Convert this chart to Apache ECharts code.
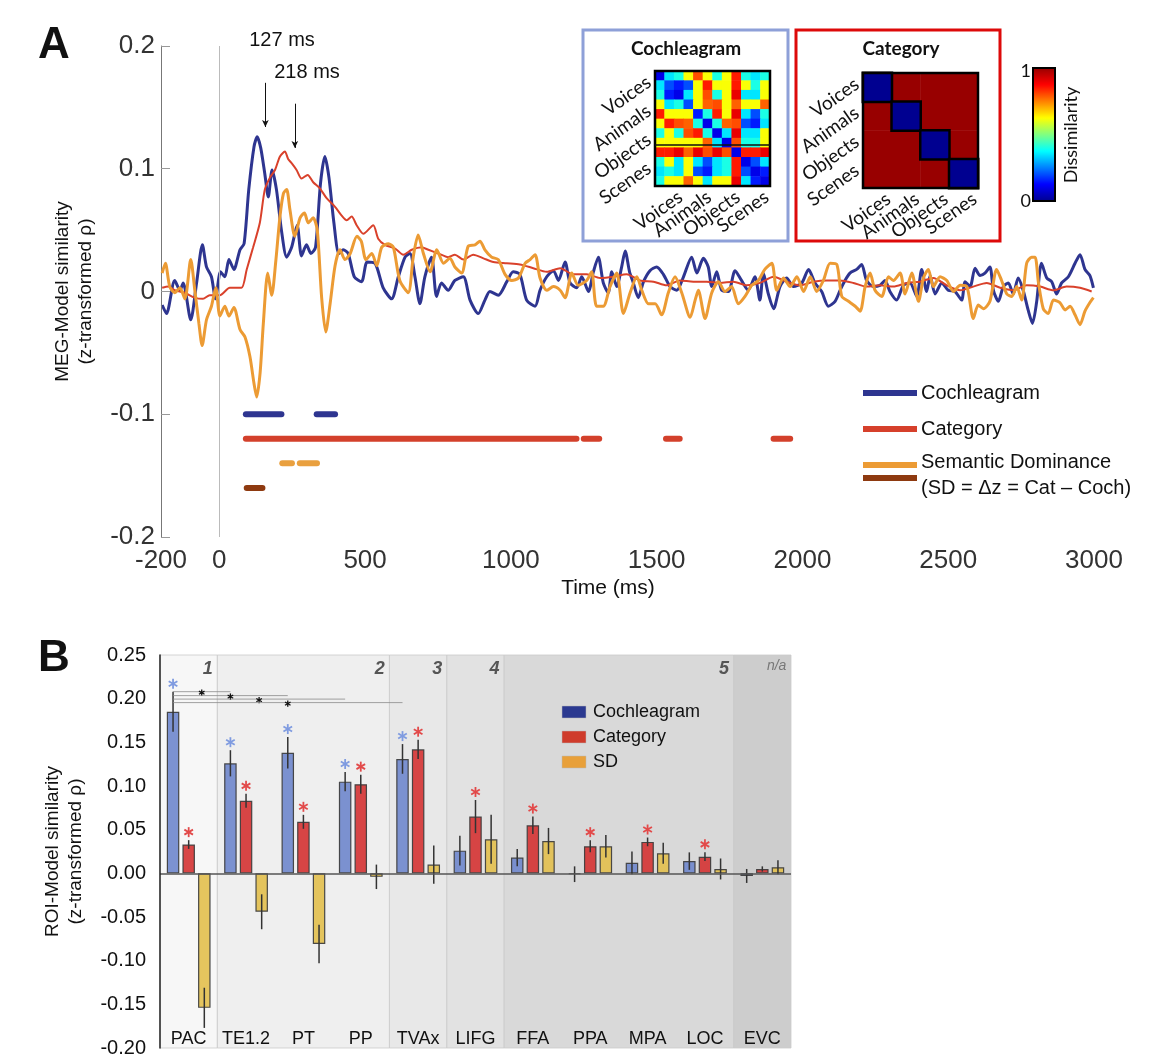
<!DOCTYPE html>
<html><head><meta charset="utf-8">
<script src="https://cdn.jsdelivr.net/npm/echarts@6/dist/echarts.min.js"></script>
<style>html,body{margin:0;padding:0;background:#fff}#c{width:1154px;height:1059px}</style>
</head><body><div id="c"></div>
<script>
// ---------------- Panel A data ----------------
const timeTickLabels = [-200, 0, 500, 1000, 1500, 2000, 2500, 3000];
const cochleagramSeries = [[-196,-0.011],[-181,-0.018],[-153,0.009],[-135,0.001],[-124,0.007],[-98,-0.023],[-78,0.007],[-58,0.038],[-44,0.020],[-27,0.012],[-13,-0.006],[4,0.016],[19,0.012],[33,0.026],[50,0.018],[71,0.034],[85,0.039],[101,0.083],[119,0.118],[130,0.126],[142,0.117],[156,0.096],[168,0.077],[181,0.099],[196,0.083],[213,0.050],[231,0.028],[248,0.036],[267,0.054],[282,0.029],[299,0.038],[314,0.031],[330,0.036],[347,0.088],[362,0.110],[376,0.093],[393,0.056],[410,0.031],[425,0.034],[442,0.031],[463,0.012],[488,0.008],[507,0.024],[534,0.023],[562,0.003],[591,-0.006],[614,0.012],[637,0.028],[654,0.031],[671,0.012],[688,-0.010],[705,0.012],[728,0.028],[745,-0.004],[762,0.007],[785,0.001],[808,0.009],[837,0.012],[860,-0.007],[888,-0.018],[911,-0.007],[928,0.000],[957,-0.003],[986,0.008],[1008,0.016],[1031,0.014],[1054,-0.007],[1083,-0.012],[1100,0.001],[1123,0.012],[1146,0.017],[1163,0.009],[1186,0.024],[1203,0.007],[1226,0.003],[1243,0.012],[1266,0.000],[1283,0.016],[1300,0.028],[1317,0.007],[1334,-0.001],[1346,0.016],[1363,0.004],[1380,0.020],[1392,0.033],[1407,0.016],[1420,0.007],[1437,-0.005],[1455,0.008],[1477,0.017],[1500,0.020],[1523,0.014],[1546,0.004],[1569,0.001],[1592,0.012],[1620,0.028],[1638,0.015],[1660,0.027],[1677,0.020],[1689,0.004],[1706,0.016],[1723,0.001],[1746,0.000],[1769,0.017],[1791,0.009],[1814,0.001],[1837,0.012],[1854,-0.007],[1866,0.015],[1883,-0.002],[1901,-0.014],[1923,0.004],[1946,0.011],[1969,0.004],[1998,0.007],[2021,0.018],[2043,0.007],[2066,0.000],[2089,-0.012],[2112,-0.008],[2129,0.001],[2146,0.009],[2163,0.015],[2186,0.018],[2203,0.022],[2220,0.009],[2243,0.004],[2266,0.005],[2283,0.009],[2300,0.000],[2323,-0.007],[2346,0.005],[2369,0.007],[2392,-0.004],[2409,0.018],[2426,0.000],[2438,0.013],[2455,-0.002],[2478,0.007],[2500,0.001],[2523,0.000],[2546,-0.007],[2558,0.008],[2575,0.004],[2592,0.019],[2609,0.013],[2626,0.015],[2643,0.020],[2655,0.001],[2672,-0.008],[2689,0.004],[2706,0.007],[2723,-0.002],[2740,0.011],[2757,0.001],[2774,-0.015],[2789,-0.026],[2803,-0.009],[2820,0.023],[2838,0.011],[2855,0.008],[2872,-0.002],[2889,0.007],[2912,0.012],[2935,0.023],[2952,0.030],[2969,0.018],[2986,0.013],[2998,0.003]];
const categorySeries = [[-196,0.003],[-175,0.004],[-153,0.001],[-119,-0.001],[-85,-0.005],[-56,-0.006],[-33,-0.003],[2,-0.003],[36,0.003],[76,0.003],[94,0.018],[116,0.036],[139,0.056],[156,0.083],[174,0.093],[191,0.099],[208,0.110],[225,0.114],[236,0.108],[250,0.104],[265,0.099],[282,0.092],[303,0.095],[322,0.089],[345,0.084],[368,0.076],[397,0.069],[419,0.062],[437,0.058],[454,0.061],[471,0.054],[494,0.047],[528,0.054],[545,0.043],[568,0.038],[603,0.035],[631,0.030],[660,0.034],[694,0.036],[717,0.034],[751,0.031],[785,0.028],[808,0.030],[837,0.026],[871,0.030],[906,0.027],[940,0.024],[986,0.023],[1031,0.022],[1077,0.019],[1123,0.016],[1169,0.019],[1214,0.014],[1260,0.014],[1306,0.011],[1352,0.012],[1397,0.014],[1443,0.009],[1489,0.008],[1534,0.005],[1580,0.009],[1626,0.008],[1672,0.008],[1717,0.007],[1763,0.008],[1809,0.005],[1854,0.007],[1901,0.012],[1946,0.008],[1992,0.005],[2038,0.008],[2084,0.009],[2129,0.009],[2175,0.007],[2220,0.004],[2266,0.005],[2312,0.004],[2358,0.007],[2403,0.008],[2449,0.011],[2495,0.005],[2541,0.001],[2586,0.004],[2632,0.007],[2678,0.003],[2723,0.001],[2769,0.005],[2815,0.004],[2861,0.001],[2906,0.004],[2952,0.003],[2992,0.000]];
const sdSeries = [[-196,0.015],[-185,0.023],[-170,0.004],[-153,-0.001],[-135,0.003],[-118,-0.006],[-98,0.026],[-84,0.001],[-70,-0.026],[-59,-0.044],[-44,-0.023],[-27,-0.012],[-12,0.003],[2,-0.020],[19,-0.012],[33,-0.020],[50,-0.013],[71,-0.031],[88,-0.037],[105,-0.053],[119,-0.075],[128,-0.086],[140,-0.066],[151,-0.026],[166,0.015],[180,-0.003],[193,0.023],[208,0.061],[220,0.080],[231,0.083],[242,0.067],[259,0.045],[277,0.060],[292,0.064],[305,0.056],[322,0.060],[336,0.050],[351,-0.005],[365,-0.033],[380,-0.010],[397,0.021],[414,0.034],[431,0.026],[449,0.031],[472,0.045],[487,0.041],[503,0.026],[523,0.031],[540,0.021],[557,0.036],[580,0.039],[597,0.036],[619,0.009],[648,-0.001],[665,0.028],[682,0.046],[700,0.031],[723,0.016],[746,0.034],[769,0.023],[791,0.027],[808,0.020],[831,0.015],[854,0.037],[877,0.038],[894,0.041],[911,0.034],[934,0.028],[957,0.026],[980,0.014],[1003,0.009],[1026,0.011],[1049,0.023],[1066,0.026],[1083,0.030],[1100,0.011],[1123,0.001],[1146,0.004],[1169,0.001],[1186,-0.005],[1209,0.015],[1231,0.005],[1260,0.009],[1277,0.016],[1294,-0.012],[1317,-0.012],[1340,0.004],[1363,0.015],[1386,-0.018],[1409,-0.001],[1432,0.012],[1449,0.001],[1472,-0.010],[1495,-0.010],[1517,-0.019],[1540,-0.001],[1563,0.012],[1586,-0.001],[1615,-0.021],[1632,-0.007],[1643,0.001],[1666,-0.022],[1689,-0.001],[1712,0.008],[1734,0.000],[1757,0.004],[1780,-0.010],[1803,-0.004],[1826,0.005],[1849,0.009],[1871,0.018],[1895,0.023],[1912,0.001],[1935,0.011],[1958,0.004],[1981,0.012],[2004,0.000],[2027,0.012],[2049,0.000],[2072,0.009],[2095,0.023],[2118,0.022],[2135,-0.004],[2158,-0.008],[2181,-0.012],[2198,-0.016],[2215,0.004],[2232,0.015],[2249,0.001],[2272,-0.004],[2295,0.012],[2312,0.009],[2335,0.015],[2352,-0.002],[2375,0.015],[2398,-0.008],[2415,0.011],[2432,0.018],[2449,0.004],[2472,0.012],[2495,0.009],[2518,0.000],[2541,0.005],[2564,0.004],[2586,-0.022],[2603,-0.011],[2621,-0.014],[2643,-0.008],[2666,0.018],[2683,0.009],[2701,-0.002],[2718,-0.004],[2735,0.004],[2752,-0.007],[2769,0.023],[2786,0.028],[2798,0.028],[2809,0.008],[2826,-0.014],[2843,-0.018],[2861,-0.007],[2883,-0.009],[2901,-0.015],[2918,-0.012],[2935,-0.019],[2952,-0.027],[2969,-0.016],[2986,-0.009],[2998,-0.005]];
// significance periods (ms) and their plotting levels
const sigCochleagram = [[91,213],[334,397]];
const sigCategory = [[91,1225],[1250,1303],[1532,1579],[1901,1958]];
const sigSD = [[216,249],[276,335]];
const sigSDneg = [[94,148]];
const sigLevels = [-0.10, -0.12, -0.14, -0.16];
const peakArrows = [[158, 0.170, 0.134], [259, 0.153, 0.117]];

// ---------------- Inset RDMs ----------------
const rdmLabels = ['Voices','Animals','Objects','Scenes'];
const cochleagramRdm = [
[0.10,0.35,0.40,0.62,0.80,0.62,0.40,0.62,0.85,0.40,0.35,0.40],
[0.35,0.20,0.15,0.20,0.62,0.85,0.62,0.62,0.85,0.62,0.40,0.62],
[0.40,0.15,0.10,0.35,0.62,0.80,0.40,0.62,0.90,0.35,0.35,0.62],
[0.62,0.35,0.40,0.20,0.62,0.78,0.80,0.62,0.78,0.62,0.62,0.78],
[0.85,0.62,0.62,0.62,0.15,0.40,0.85,0.62,0.90,0.35,0.20,0.40],
[0.62,0.85,0.80,0.78,0.40,0.10,0.40,0.78,0.80,0.20,0.15,0.35],
[0.40,0.62,0.40,0.80,0.85,0.40,0.10,0.35,0.90,0.35,0.35,0.62],
[0.62,0.62,0.62,0.62,0.62,0.78,0.35,0.10,0.80,0.40,0.40,0.62],
[0.85,0.85,0.90,0.78,0.90,0.80,0.90,0.80,0.10,0.85,0.85,0.90],
[0.40,0.62,0.35,0.62,0.35,0.20,0.35,0.40,0.85,0.10,0.20,0.35],
[0.35,0.40,0.35,0.62,0.20,0.15,0.35,0.40,0.85,0.20,0.10,0.15],
[0.40,0.62,0.62,0.78,0.62,0.35,0.62,0.62,0.90,0.35,0.15,0.10]];
const categoryRdm = [[0,1,1,1],[1,0,1,1],[1,1,0,1],[1,1,1,0]];

// ---------------- Panel B data ----------------
const roiNames = ['PAC','TE1.2','PT','PP','TVAx','LIFG','FFA','PPA','MPA','LOC','EVC'];
const cochValues = [0.185, 0.126, 0.138, 0.105, 0.131, 0.026, 0.018, -0.001, 0.012, 0.014, -0.003];
const cochErrors = [0.023, 0.015, 0.018, 0.011, 0.017, 0.017, 0.010, 0.009, 0.013, 0.010, 0.008];
const catValues = [0.033, 0.083, 0.059, 0.102, 0.142, 0.065, 0.055, 0.031, 0.036, 0.019, 0.005];
const catErrors = [0.005, 0.008, 0.008, 0.011, 0.011, 0.019, 0.010, 0.007, 0.005, 0.005, 0.003];
const sdValues = [-0.154, -0.044, -0.081, -0.004, 0.010, 0.039, 0.037, 0.031, 0.023, 0.005, 0.007];
const sdErrors = [0.023, 0.020, 0.022, 0.014, 0.022, 0.028, 0.015, 0.013, 0.012, 0.012, 0.008];
const cochSig = [1,1,1,1,1,0,0,0,0,0,0];
const catSig = [1,1,1,1,1,1,1,1,1,1,0];
const sdSig = [0,0,0,0,0,0,0,0,0,0,0];
const regionNames = ['1','2','3','4','5','n/a'];
const regionSpans = [[0,0],[1,3],[4,4],[5,5],[6,9],[10,10]];
const pairComparisons = [[0,1,0.208],[0,2,0.2035],[0,3,0.1995],[0,4,0.1955]];

// ---------------- styles ----------------
const FONT = '"Liberation Sans", Arial, Helvetica, sans-serif';
const INSET_FONT = 'Lato, "Liberation Sans", sans-serif';
const C_BLUE = '#2e3590', C_RED = '#d9412b', C_ORANGE = '#ec9b34', C_BROWN = '#8e3a10';
const sigColors = [C_BLUE, '#d3402b', '#e9a03f', C_BROWN];
const regionColors = ['#f7f7f7','#efefef','#e8e8e8','#e2e2e2','#d9d9d9','#cdcdcd'];
const BAR_FRAC = 0.218, GAP_FRAC = 0.25;
const jet = ['#000090','#0000ff','#0080ff','#00ffff','#80ff80','#ffff00','#ff8000','#ff0000','#980000'];
const COCH_M = {x:655, y:71, s:115};
const CAT_M = {x:863, y:73, s:115};

const chart = echarts.init(document.getElementById('c'));

function asterisk(cx, cy, r, color, lw) {
  const kids = [];
  [90, 30, 150].forEach(a => {
    const rad = a*Math.PI/180, dx = r*Math.cos(rad), dy = r*Math.sin(rad);
    kids.push({type:'line', shape:{x1:cx-dx, y1:cy-dy, x2:cx+dx, y2:cy+dy}, style:{stroke:color, lineWidth:lw}});
  });
  return kids;
}
function barOffset(api, k) {
  const bw = api.size([1,0])[0];
  const w = bw*BAR_FRAC, g = w*GAP_FRAC;
  return (k-1)*(w+g);
}
function errSeries(k, values, errors, sig, starColor) {
  return {
    type:'custom', xAxisIndex:1, yAxisIndex:1, z:4, silent:true,
    encode:{x:0, y:1},
    data: values.map((v,i)=>[i, v, errors[i], sig[i]]),
    renderItem(params, api) {
      const idx = api.value(0), v = api.value(1), e = api.value(2), s = api.value(3);
      const x = api.coord([idx, v])[0] + barOffset(api, k);
      const yT = api.coord([idx, v+e])[1], yB = api.coord([idx, v-e])[1];
      let kids = [{type:'line', shape:{x1:x,y1:yT,x2:x,y2:yB}, style:{stroke:'#333', lineWidth:1.5}}];
      if (s) kids = kids.concat(asterisk(x, yT-8, 5, starColor, 1.8));
      return {type:'group', children:kids};
    }
  };
}

const sigData = [];
[sigCochleagram, sigCategory, sigSD, sigSDneg].forEach((arr, r) => arr.forEach(p => sigData.push([p[0], p[1], sigLevels[r], r])));

const cochHeat = [];
cochleagramRdm.forEach((row,i)=>row.forEach((v,j)=>cochHeat.push([j,i,v])));
const catHeat = [], catDiag = [];
categoryRdm.forEach((row,i)=>row.forEach((v,j)=>{
  if (i===j) catDiag.push({value:[j,i,v], itemStyle:{borderColor:'#000', borderWidth:2.5}});
  else catHeat.push([j,i,v]);
}));

const barCommon = {type:'bar', xAxisIndex:1, yAxisIndex:1, barWidth:(BAR_FRAC*100)+'%', barGap:(GAP_FRAC*100)+'%', z:3, silent:true};

// graphic elements
const g = [];
function txt(x, y, text, font, opts) {
  opts = opts || {};
  g.push({type:'text', x:x, y:y, rotation:opts.rot||0, z:50, silent:true,
    style:{text:text, x:0, y:0, font:font, fill:opts.fill||'#111', align:opts.align||'left', verticalAlign:opts.va||'middle',
           textAlign:opts.align||'left', textVerticalAlign:opts.va||'middle'}});
}
txt(38, 46, 'A', 'bold 44px '+FONT);
txt(38, 659, 'B', 'bold 44px '+FONT);
txt(282, 40, '127 ms', '20px '+FONT, {align:'center'});
txt(307, 72, '218 ms', '20px '+FONT, {align:'center'});
txt(608, 588, 'Time (ms)', '21px '+FONT, {align:'center'});
// inset frames
g.push({type:'rect', shape:{x:583, y:30, width:205, height:211}, style:{fill:'#fff', stroke:'#8ea0d8', lineWidth:3}, z:1});
g.push({type:'rect', shape:{x:796, y:30, width:204, height:211}, style:{fill:'#fff', stroke:'#dd0a0a', lineWidth:3}, z:1});
txt(686, 49, 'Cochleagram', 'bold 19px '+INSET_FONT, {align:'center'});
txt(901, 49, 'Category', 'bold 19px '+INSET_FONT, {align:'center'});
[COCH_M, CAT_M].forEach(M => {
  g.push({type:'rect', shape:{x:M.x, y:M.y, width:M.s, height:M.s}, style:{fill:null, stroke:'#000', lineWidth:2.5}, z:40});
  const step = M.s/4, rot = 35*Math.PI/180;
  rdmLabels.forEach((lab,i) => {
    txt(M.x-6, M.y+(i+0.5)*step-5, lab, '19px '+INSET_FONT, {align:'right', rot:rot});
    txt(M.x+(i+0.5)*step+11, M.y+M.s+9, lab, '19px '+INSET_FONT, {align:'right', rot:rot});
  });
});
g.push({type:'line', shape:{x1:COCH_M.x, y1:145, x2:COCH_M.x+COCH_M.s, y2:145}, style:{stroke:'#111', lineWidth:1.5}, z:41});
// colorbar frame + labels
g.push({type:'rect', shape:{x:1033, y:68, width:22, height:133}, style:{fill:null, stroke:'#000', lineWidth:2}, z:40});
txt(1031, 71, '1', '18px '+INSET_FONT, {align:'right'});
txt(1031, 201, '0', '18px '+INSET_FONT, {align:'right'});
txt(1071, 135, 'Dissimilarity', '18px '+INSET_FONT, {align:'center', rot:Math.PI/2});
// legend A
[[393, C_BLUE, 'Cochleagram'], [429, '#d6402b', 'Category'], [465, C_ORANGE, null], [478, C_BROWN, null]].forEach(r => {
  g.push({type:'line', shape:{x1:863, y1:r[0], x2:917, y2:r[0]}, style:{stroke:r[1], lineWidth:6}, z:20});
  if (r[2]) txt(921, r[0], r[2], '20px '+FONT);
});
txt(921, 462, 'Semantic Dominance', '20px '+FONT);
txt(921, 488, '(SD = \u0394z = Cat \u2013 Coch)', '20px '+FONT);
// legend B
[[706, '#2b3990', 'Cochleagram'], [731, '#cf3b2b', 'Category'], [756, '#e8a03a', 'SD']].forEach(r => {
  g.push({type:'rect', shape:{x:562, y:r[0], width:24, height:12}, style:{fill:r[1], stroke:'#bbb', lineWidth:0.5}, z:20});
  txt(593, r[0]+6, r[2], '18px '+FONT);
});

const option = {
  backgroundColor:'#fff',
  animation:false,
  grid:[
    {left:161, right:60, top:46, bottom:522},
    {left:160, right:363, top:655, bottom:11},
    {left:COCH_M.x, top:COCH_M.y, width:COCH_M.s, height:COCH_M.s, z:10},
    {left:CAT_M.x, top:CAT_M.y, width:CAT_M.s, height:CAT_M.s, z:10}
  ],
  xAxis:[
    {type:'value', gridIndex:0, min:-200, max:3000, interval:100,
     axisLine:{show:false, onZero:false}, axisTick:{show:false}, splitLine:{show:false},
     axisLabel:{margin:11, fontSize:26, color:'#333', fontFamily:FONT, formatter:v=>timeTickLabels.includes(v)?String(v):''}},
    {type:'category', gridIndex:1, data:roiNames, position:'bottom',
     axisLine:{show:false, onZero:false}, axisTick:{show:false},
     axisLabel:{margin:-18, fontSize:18, color:'#111', fontFamily:FONT, interval:0}},
    {type:'value', gridIndex:1, min:-0.5, max:10.5, show:false, axisLine:{onZero:false}},
    {type:'category', gridIndex:2, data:cochleagramRdm.map((r,i)=>String(i)), show:false},
    {type:'category', gridIndex:3, data:categoryRdm.map((r,i)=>String(i)), show:false}
  ],
  yAxis:[
    {type:'value', gridIndex:0, min:-0.2, max:0.2, interval:0.1, z:5,
     axisLine:{show:true, onZero:false, lineStyle:{color:'#777', width:1}},
     axisTick:{show:true, inside:true, length:9, lineStyle:{color:'#999'}},
     splitLine:{show:false},
     axisLabel:{margin:6, fontSize:26, color:'#333', fontFamily:FONT, formatter:v=>Math.abs(v)<1e-9?'0':String(+v.toFixed(1))},
     name:'MEG-Model similarity\n(z-transformed \u03c1)', nameLocation:'middle', nameGap:64,
     nameTextStyle:{fontSize:19, lineHeight:23, color:'#111', fontFamily:FONT}},
    {type:'value', gridIndex:1, min:-0.2, max:0.25, interval:0.05, z:5,
     axisLine:{show:true, onZero:false, lineStyle:{color:'#222', width:1.5}},
     axisTick:{show:false}, splitLine:{show:false},
     axisLabel:{margin:14, fontSize:20, color:'#111', fontFamily:FONT, formatter:v=>v.toFixed(2)},
     name:'ROI-Model similarity\n(z-transformed \u03c1)', nameLocation:'middle', nameGap:73,
     nameTextStyle:{fontSize:19, lineHeight:23, color:'#111', fontFamily:FONT}},
    {type:'category', gridIndex:2, data:cochleagramRdm.map((r,i)=>String(i)), inverse:true, show:false},
    {type:'category', gridIndex:3, data:categoryRdm.map((r,i)=>String(i)), inverse:true, show:false}
  ],
  visualMap:[{type:'continuous', min:0, max:1, seriesIndex:[12,13], inRange:{color:jet},
    orient:'vertical', left:1033, top:68, itemWidth:22, itemHeight:133, padding:0, calculable:false, z:30}],
  graphic:{elements:g},
  series:[
    {type:'line', name:'Cochleagram', xAxisIndex:0, yAxisIndex:0, data:cochleagramSeries, showSymbol:false, smooth:0.25,
     lineStyle:{color:C_BLUE, width:3}, z:3, silent:true,
     markLine:{silent:true, symbol:'none', label:{show:false}, data:[{xAxis:0, lineStyle:{color:'#bbb', width:1, type:'solid'}}]}},
    {type:'line', name:'Category', xAxisIndex:0, yAxisIndex:0, data:categorySeries, showSymbol:false, smooth:0.25,
     lineStyle:{color:C_RED, width:2}, z:4, silent:true,
     markLine:{silent:true, symbol:['none','arrow'], symbolSize:[5,7], label:{show:false},
       lineStyle:{color:'#111', width:1, type:'solid'},
       data: peakArrows.map(a=>[{coord:[a[0],a[1]]},{coord:[a[0],a[2]]}])}},
    {type:'line', name:'SD', xAxisIndex:0, yAxisIndex:0, data:sdSeries, showSymbol:false, smooth:0.25,
     lineStyle:{color:C_ORANGE, width:3}, z:5, silent:true},
    {type:'custom', xAxisIndex:0, yAxisIndex:0, silent:true, encode:{x:[0,1], y:2}, data:sigData,
     renderItem(params, api) {
       const p0 = api.coord([api.value(0), api.value(2)]), p1 = api.coord([api.value(1), api.value(2)]);
       return {type:'line', shape:{x1:p0[0], y1:p0[1], x2:p1[0], y2:p1[1]},
               style:{stroke:sigColors[api.value(3)], lineWidth:6, lineCap:'round'}};
     }},
    {type:'line', xAxisIndex:2, yAxisIndex:1, data:[[0,0]], symbol:'none', lineStyle:{opacity:0}, silent:true, z:0,
     markArea:{silent:true, z:0,
       data: regionSpans.map((sp,i)=>[{xAxis:sp[0]-0.5, name:regionNames[i],
         itemStyle:{color:regionColors[i], borderColor:'#cacaca', borderWidth:0.8},
         label:{show:true, position:'insideTopRight', distance:5, fontFamily:FONT, fontStyle:'italic',
           fontWeight:i===5?'normal':'bold', fontSize:i===5?14:18, color:i===5?'#777':'#555'}},
         {xAxis:sp[1]+0.5}])}},
    Object.assign({name:'Cochleagram', data:cochValues, itemStyle:{color:'#7189cd', opacity:0.92, borderColor:'#3c3c3c', borderWidth:1.2},
      markLine:{silent:true, symbol:'none', label:{show:false}, lineStyle:{color:'#555', width:1.5, type:'solid'}, data:[{yAxis:0}]}}, barCommon),
    Object.assign({name:'Category', data:catValues, itemStyle:{color:'#d53636', opacity:0.92, borderColor:'#3c3c3c', borderWidth:1.2}}, barCommon),
    Object.assign({name:'SD', data:sdValues, itemStyle:{color:'#e3c050', opacity:0.92, borderColor:'#3c3c3c', borderWidth:1.2}}, barCommon),
    errSeries(0, cochValues, cochErrors, cochSig, '#7f9be0'),
    errSeries(1, catValues, catErrors, catSig, '#e24a4a'),
    errSeries(2, sdValues, sdErrors, sdSig, '#e0b040'),
    {type:'custom', xAxisIndex:1, yAxisIndex:1, silent:true, z:4, encode:{x:0, y:2}, data:pairComparisons,
     renderItem(params, api) {
       const lv = api.value(2);
       const off = barOffset(api, 0);
       const x0 = api.coord([api.value(0), lv])[0] + off;
       const x1 = api.coord([api.value(1), lv])[0] + off;
       const y = api.coord([api.value(0), lv])[1];
       const kids = [{type:'line', shape:{x1:x0, y1:y, x2:x1, y2:y}, style:{stroke:'#8a8a8a', lineWidth:0.8}}]
         .concat(asterisk((x0+x1)/2, y+1, 3.2, '#111', 1.3));
       return {type:'group', children:kids};
     }},
    {type:'heatmap', xAxisIndex:3, yAxisIndex:2, data:cochHeat, silent:true, itemStyle:{borderWidth:0}},
    {type:'heatmap', xAxisIndex:4, yAxisIndex:3, data:catHeat.concat(catDiag), silent:true}
  ]
};
chart.setOption(option);
</script></body></html>
